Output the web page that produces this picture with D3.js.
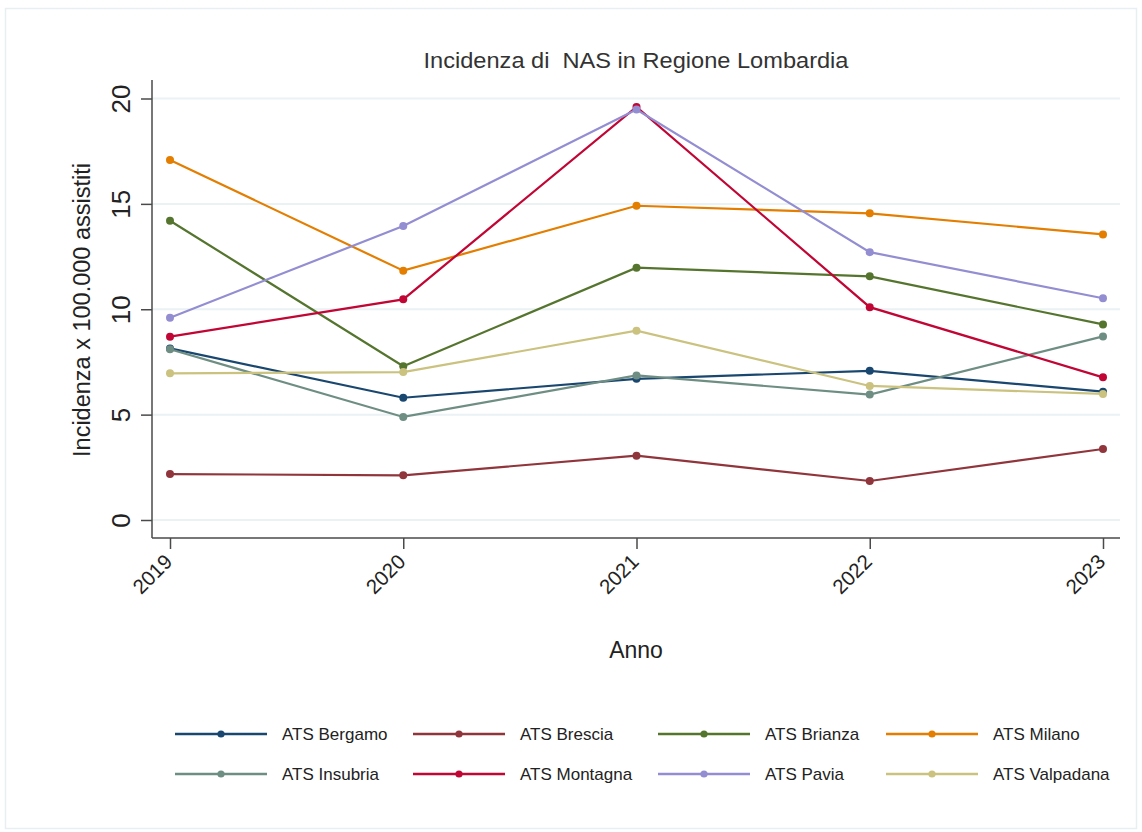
<!DOCTYPE html>
<html>
<head>
<meta charset="utf-8">
<script src="https://cdn.jsdelivr.net/npm/d3@7"></script>
<style>
  html, body { margin: 0; padding: 0; background: #fff; }
  svg { display: block; font-family: Arial, "Liberation Sans", sans-serif; }
</style>
</head>
<body>
<svg id="chart" width="1142" height="832"></svg>
<script>
const years = [2019, 2020, 2021, 2022, 2023];
const yTicks = [0, 5, 10, 15, 20];

const seriesNames = ["ATS Bergamo", "ATS Brescia", "ATS Brianza", "ATS Milano",
                     "ATS Insubria", "ATS Montagna", "ATS Pavia", "ATS Valpadana"];
const seriesColors = ["#1a476f", "#90353b", "#55752f", "#e37e00",
                      "#6e8e84", "#c10534", "#938dd2", "#cac27e"];

const bergamo   = [8.14, 5.80, 6.70, 7.08, 6.09];
const brescia   = [2.18, 2.12, 3.05, 1.85, 3.37];
const brianza   = [14.20, 7.30, 11.97, 11.56, 9.28];
const milano    = [17.08, 11.83, 14.91, 14.55, 13.55];
const insubria  = [8.10, 4.89, 6.86, 5.95, 8.71];
const montagna  = [8.70, 10.47, 19.60, 10.10, 6.77];
const pavia     = [9.60, 13.95, 19.48, 12.71, 10.52];
const valpadana = [6.96, 7.02, 8.98, 6.36, 5.98];

const seriesValues = [bergamo, brescia, brianza, milano, insubria, montagna, pavia, valpadana];

const svg = d3.select("#chart");

// outer frame
svg.append("rect").attr("x", 5.5).attr("y", 8.5).attr("width", 1131).attr("height", 820)
  .attr("fill", "none").attr("stroke", "#e8eff1").attr("stroke-width", 1.5);

const plotLeft = 152, plotRight = 1120, plotTop = 80, plotBottom = 538;

const x = d3.scaleLinear().domain([2019, 2023]).range([170, 1103]);
const y = d3.scaleLinear().domain([0, 20]).range([520, 98.5]);

// gridlines
svg.append("g").selectAll("line").data(yTicks).join("line")
  .attr("x1", plotLeft).attr("x2", plotRight)
  .attr("y1", d => y(d)).attr("y2", d => y(d))
  .attr("stroke", "#eaf2f3").attr("stroke-width", 2);

// y axis
const yAxis = svg.append("g").attr("transform", `translate(${plotLeft},0)`)
  .call(d3.axisLeft(y).tickValues(yTicks).tickSize(11).tickPadding(0).tickFormat(d3.format("d")));
yAxis.select(".domain").attr("d", `M0,${plotTop}V${plotBottom}`).attr("stroke", "#4a4a4a").attr("stroke-width", 1.5);
yAxis.selectAll(".tick line").attr("stroke", "#4a4a4a").attr("stroke-width", 1.5);
yAxis.selectAll(".tick text")
  .attr("x", null).attr("dy", null)
  .attr("text-anchor", "middle")
  .attr("transform", "translate(-31,0) rotate(-90)")
  .attr("dy", "0.35em")
  .attr("font-size", 26)
  .attr("fill", "#222");

// x axis
const xAxis = svg.append("g").attr("transform", `translate(0,${plotBottom})`)
  .call(d3.axisBottom(x).tickValues(years).tickSize(11).tickFormat(d3.format("d")));
xAxis.select(".domain").attr("d", `M${plotLeft},0H${plotRight}`).attr("stroke", "#4a4a4a").attr("stroke-width", 1.5);
xAxis.selectAll(".tick line").attr("stroke", "#4a4a4a").attr("stroke-width", 1.5);
xAxis.selectAll(".tick text")
  .attr("y", null).attr("dy", null)
  .attr("text-anchor", "end")
  .attr("transform", "translate(3,25) rotate(-45)")
  .attr("font-size", 20.5)
  .attr("fill", "#222");

// title
svg.append("text").attr("x", 636).attr("y", 68).attr("text-anchor", "middle")
  .attr("font-size", 22).attr("fill", "#333")
  .attr("textLength", 425).attr("lengthAdjust", "spacingAndGlyphs")
  .text("Incidenza di\u00a0 NAS in Regione Lombardia");

// axis titles
svg.append("text").attr("transform", "translate(90,310) rotate(-90)")
  .attr("text-anchor", "middle").attr("font-size", 23.5).attr("fill", "#222")
  .text("Incidenza x 100.000 assistiti");
svg.append("text").attr("x", 636).attr("y", 658).attr("text-anchor", "middle")
  .attr("font-size", 23).attr("fill", "#222").text("Anno");

// series
const line = d3.line().x((d, i) => x(years[i])).y(d => y(d));
const gSeries = svg.append("g");
seriesValues.forEach((vals, k) => {
  const g = gSeries.append("g");
  g.append("path").datum(vals).attr("d", line)
    .attr("fill", "none").attr("stroke", seriesColors[k]).attr("stroke-width", 2.2);
  g.selectAll("circle").data(vals).join("circle")
    .attr("cx", (d, i) => x(years[i])).attr("cy", d => y(d)).attr("r", 4)
    .attr("fill", seriesColors[k]);
});

// legend
const legCols = [175, 413, 658, 886];
const legRows = [734, 774];
const legend = svg.append("g");
seriesNames.forEach((name, k) => {
  const lx = legCols[k % 4], ly = legRows[Math.floor(k / 4)];
  const g = legend.append("g");
  g.append("line").attr("x1", lx).attr("x2", lx + 92).attr("y1", ly).attr("y2", ly)
    .attr("stroke", seriesColors[k]).attr("stroke-width", 2.6);
  g.append("circle").attr("cx", lx + 46).attr("cy", ly).attr("r", 3.6).attr("fill", seriesColors[k]);
  g.append("text").attr("x", lx + 107).attr("y", ly).attr("dy", "0.35em")
    .attr("font-size", 17).attr("fill", "#222").text(name);
});
</script>
</body>
</html>
